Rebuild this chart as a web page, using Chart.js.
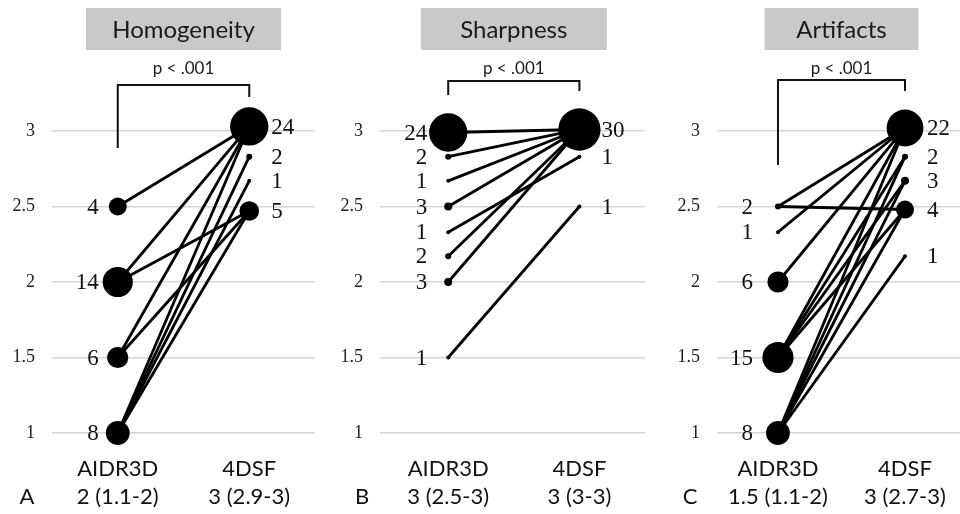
<!DOCTYPE html>
<html>
<head>
<meta charset="utf-8">
<script src="https://cdn.jsdelivr.net/npm/chart.js@4.4.1/dist/chart.umd.min.js"></script>
<style>
  html, body { margin: 0; padding: 0; background: #fff; }
  #wrap { position: relative; width: 960px; height: 514px; overflow: hidden; }
  canvas { position: absolute; top: 0; }
</style>
</head>
<body>
<div id="wrap">
  <canvas id="chartA" width="320" height="514" style="left:0px"></canvas>
  <canvas id="chartB" width="330" height="514" style="left:320px"></canvas>
  <canvas id="chartC" width="320" height="514" style="left:640px"></canvas>
</div>
<script>
let groupLabels = ['AIDR3D', '4DSF'];
let yTicks = [1, 1.5, 2, 2.5, 3];

// Homogeneity
let homLeftScores = [2.5, 2, 1.5, 1];
let homLeftCounts = [4, 14, 6, 8];
let homRightScores = [3.03, 2.83, 2.67, 2.47];
let homRightCounts = [24, 2, 1, 5];
let homPairs = [[2.5, 3.03], [2, 3.03], [2, 2.47], [1.5, 3.03], [1.5, 2.47],
                [1, 3.03], [1, 2.83], [1, 2.67], [1, 2.47]];
let homMedians = ['2 (1.1-2)', '3 (2.9-3)'];

// Sharpness
let shLeftScores = [2.99, 2.83, 2.67, 2.5, 2.33, 2.17, 2, 1.5];
let shLeftCounts = [24, 2, 1, 3, 1, 2, 3, 1];
let shRightScores = [3.01, 2.83, 2.5];
let shRightCounts = [30, 1, 1];
let shPairs = [[2.99, 3.01], [2.83, 3.01], [2.67, 3.01], [2.5, 3.01], [2.33, 2.83],
               [2.17, 3.01], [2, 3.01], [1.5, 2.5]];
let shMedians = ['3 (2.5-3)', '3 (3-3)'];

// Artifacts
let artLeftScores = [2.5, 2.33, 2, 1.5, 1];
let artLeftCounts = [2, 1, 6, 15, 8];
let artRightScores = [3.02, 2.83, 2.67, 2.48, 2.17];
let artRightCounts = [22, 2, 3, 4, 1];
let artPairs = [[2.5, 3.02], [2.5, 2.48], [2.33, 3.02], [2, 3.02], [1.5, 3.02], [1.5, 2.83],
                [1.5, 2.67], [1.5, 2.48], [1, 3.02], [1, 2.83], [1, 2.67], [1, 2.48], [1, 2.17]];
let artMedians = ['1.5 (1.1-2)', '3 (2.7-3)'];

let pValue = 'p < .001';

function radius(n) {
  return n < 4 ? n + 1 : 2 + 3.5 * Math.sqrt(n);
}

const deco = {
  id: 'deco',
  afterDraw(chart, args, o) {
    const ctx = chart.ctx;
    const x = chart.scales.x, y = chart.scales.y;
    const x0 = x.getPixelForValue(0), x1 = x.getPixelForValue(1);
    const mid = (x0 + x1) / 2;
    ctx.save();
    // title box
    ctx.fillStyle = '#c9c9c9';
    ctx.fillRect(mid - o.boxW / 2, 8, o.boxW, 42);
    ctx.fillStyle = '#1a1a1a';
    ctx.textAlign = 'center';
    ctx.textBaseline = 'middle';
    ctx.font = '24px Lato';
    ctx.fillText(o.title, mid, 30);
    // p value + bracket
    ctx.font = '17px Lato';
    ctx.fillText(pValue, mid, 69);
    ctx.strokeStyle = '#111';
    ctx.lineWidth = 2;
    ctx.beginPath();
    ctx.moveTo(x0, o.legL);
    ctx.lineTo(x0, o.bracketY);
    ctx.lineTo(x1, o.bracketY);
    ctx.lineTo(x1, o.legR);
    ctx.stroke();
    // counts
    ctx.font = '23px "Liberation Serif"';
    ctx.fillStyle = '#111';
    ctx.textAlign = 'right';
    o.leftScores.forEach((s, i) => {
      ctx.fillText(String(o.leftCounts[i]), x0 - o.leftGap, y.getPixelForValue(s) + 1);
    });
    ctx.textAlign = 'left';
    o.rightScores.forEach((s, i) => {
      ctx.fillText(String(o.rightCounts[i]), x1 + 22, y.getPixelForValue(s) + 1);
    });
    // group labels
    ctx.font = '22px Lato';
    ctx.textAlign = 'center';
    ctx.fillText(groupLabels[0], x0, 469);
    ctx.fillText(groupLabels[1], x1, 469);
    ctx.fillText(o.medians[0], x0, 497);
    ctx.fillText(o.medians[1], x1, 497);
    ctx.fillText(o.letter, o.letterX, 497);
    ctx.restore();
  }
};

function makePanel(id, cfg) {
  const lineSets = cfg.pairs.map(p => ({
    type: 'line',
    data: [{x: 0, y: p[0]}, {x: 1, y: p[1]}],
    borderColor: '#000',
    borderWidth: 2.8,
    pointRadius: 0,
    clip: false,
    order: 2
  }));
  const pts = cfg.leftScores.map(s => ({x: 0, y: s}))
    .concat(cfg.rightScores.map(s => ({x: 1, y: s})));
  const cnts = cfg.leftCounts.concat(cfg.rightCounts);
  const dots = {
    type: 'scatter',
    data: pts,
    backgroundColor: '#000',
    borderWidth: 0,
    pointRadius: c => radius(cnts[c.dataIndex]),
    pointHoverRadius: c => radius(cnts[c.dataIndex]),
    clip: false,
    order: 1
  };
  return new Chart(document.getElementById(id), {
    type: 'scatter',
    data: { datasets: lineSets.concat([dots]) },
    plugins: [deco],
    options: {
      responsive: false,
      animation: false,
      devicePixelRatio: 1,
      layout: { autoPadding: false, padding: { top: 131, bottom: 81, left: 0, right: cfg.padR } },
      plugins: {
        legend: { display: false },
        tooltip: { enabled: false },
        deco: cfg
      },
      scales: {
        x: { type: 'linear', min: cfg.xMin, max: cfg.xMax, display: false },
        y: {
          type: 'linear', min: 1, max: 3,
          afterBuildTicks: s => { s.ticks = yTicks.map(v => ({value: v})); },
          afterFit: s => { s.width = cfg.axisW; },
          border: { display: false },
          grid: { color: '#d6d6d6', lineWidth: 1.5, drawTicks: false },
          ticks: {
            padding: 17,
            color: '#222',
            font: { family: 'Liberation Serif', size: 18 },
            callback: v => String(v)
          }
        }
      }
    }
  });
}

makePanel('chartA', {
  title: 'Homogeneity', boxW: 195, letter: 'A', letterX: 27,
  axisW: 52, padR: 5, xMin: -0.5, xMax: 1.5, leftGap: 19,
  bracketY: 85, legL: 148, legR: 97,
  leftScores: homLeftScores, leftCounts: homLeftCounts,
  rightScores: homRightScores, rightCounts: homRightCounts,
  pairs: homPairs, medians: homMedians
});
makePanel('chartB', {
  title: 'Sharpness', boxW: 186, letter: 'B', letterX: 42,
  axisW: 60, padR: 5, xMin: -0.52, xMax: 1.5, leftGap: 21,
  bracketY: 81, legL: 95, legR: 91,
  leftScores: shLeftScores, leftCounts: shLeftCounts,
  rightScores: shRightScores, rightCounts: shRightCounts,
  pairs: shPairs, medians: shMedians
});
makePanel('chartC', {
  title: 'Artifacts', boxW: 154, letter: 'C', letterX: 50,
  axisW: 77, padR: 0, xMin: -0.48, xMax: 1.433, leftGap: 25,
  bracketY: 80, legL: 165, legR: 91,
  leftScores: artLeftScores, leftCounts: artLeftCounts,
  rightScores: artRightScores, rightCounts: artRightCounts,
  pairs: artPairs, medians: artMedians
});
</script>
</body>
</html>
